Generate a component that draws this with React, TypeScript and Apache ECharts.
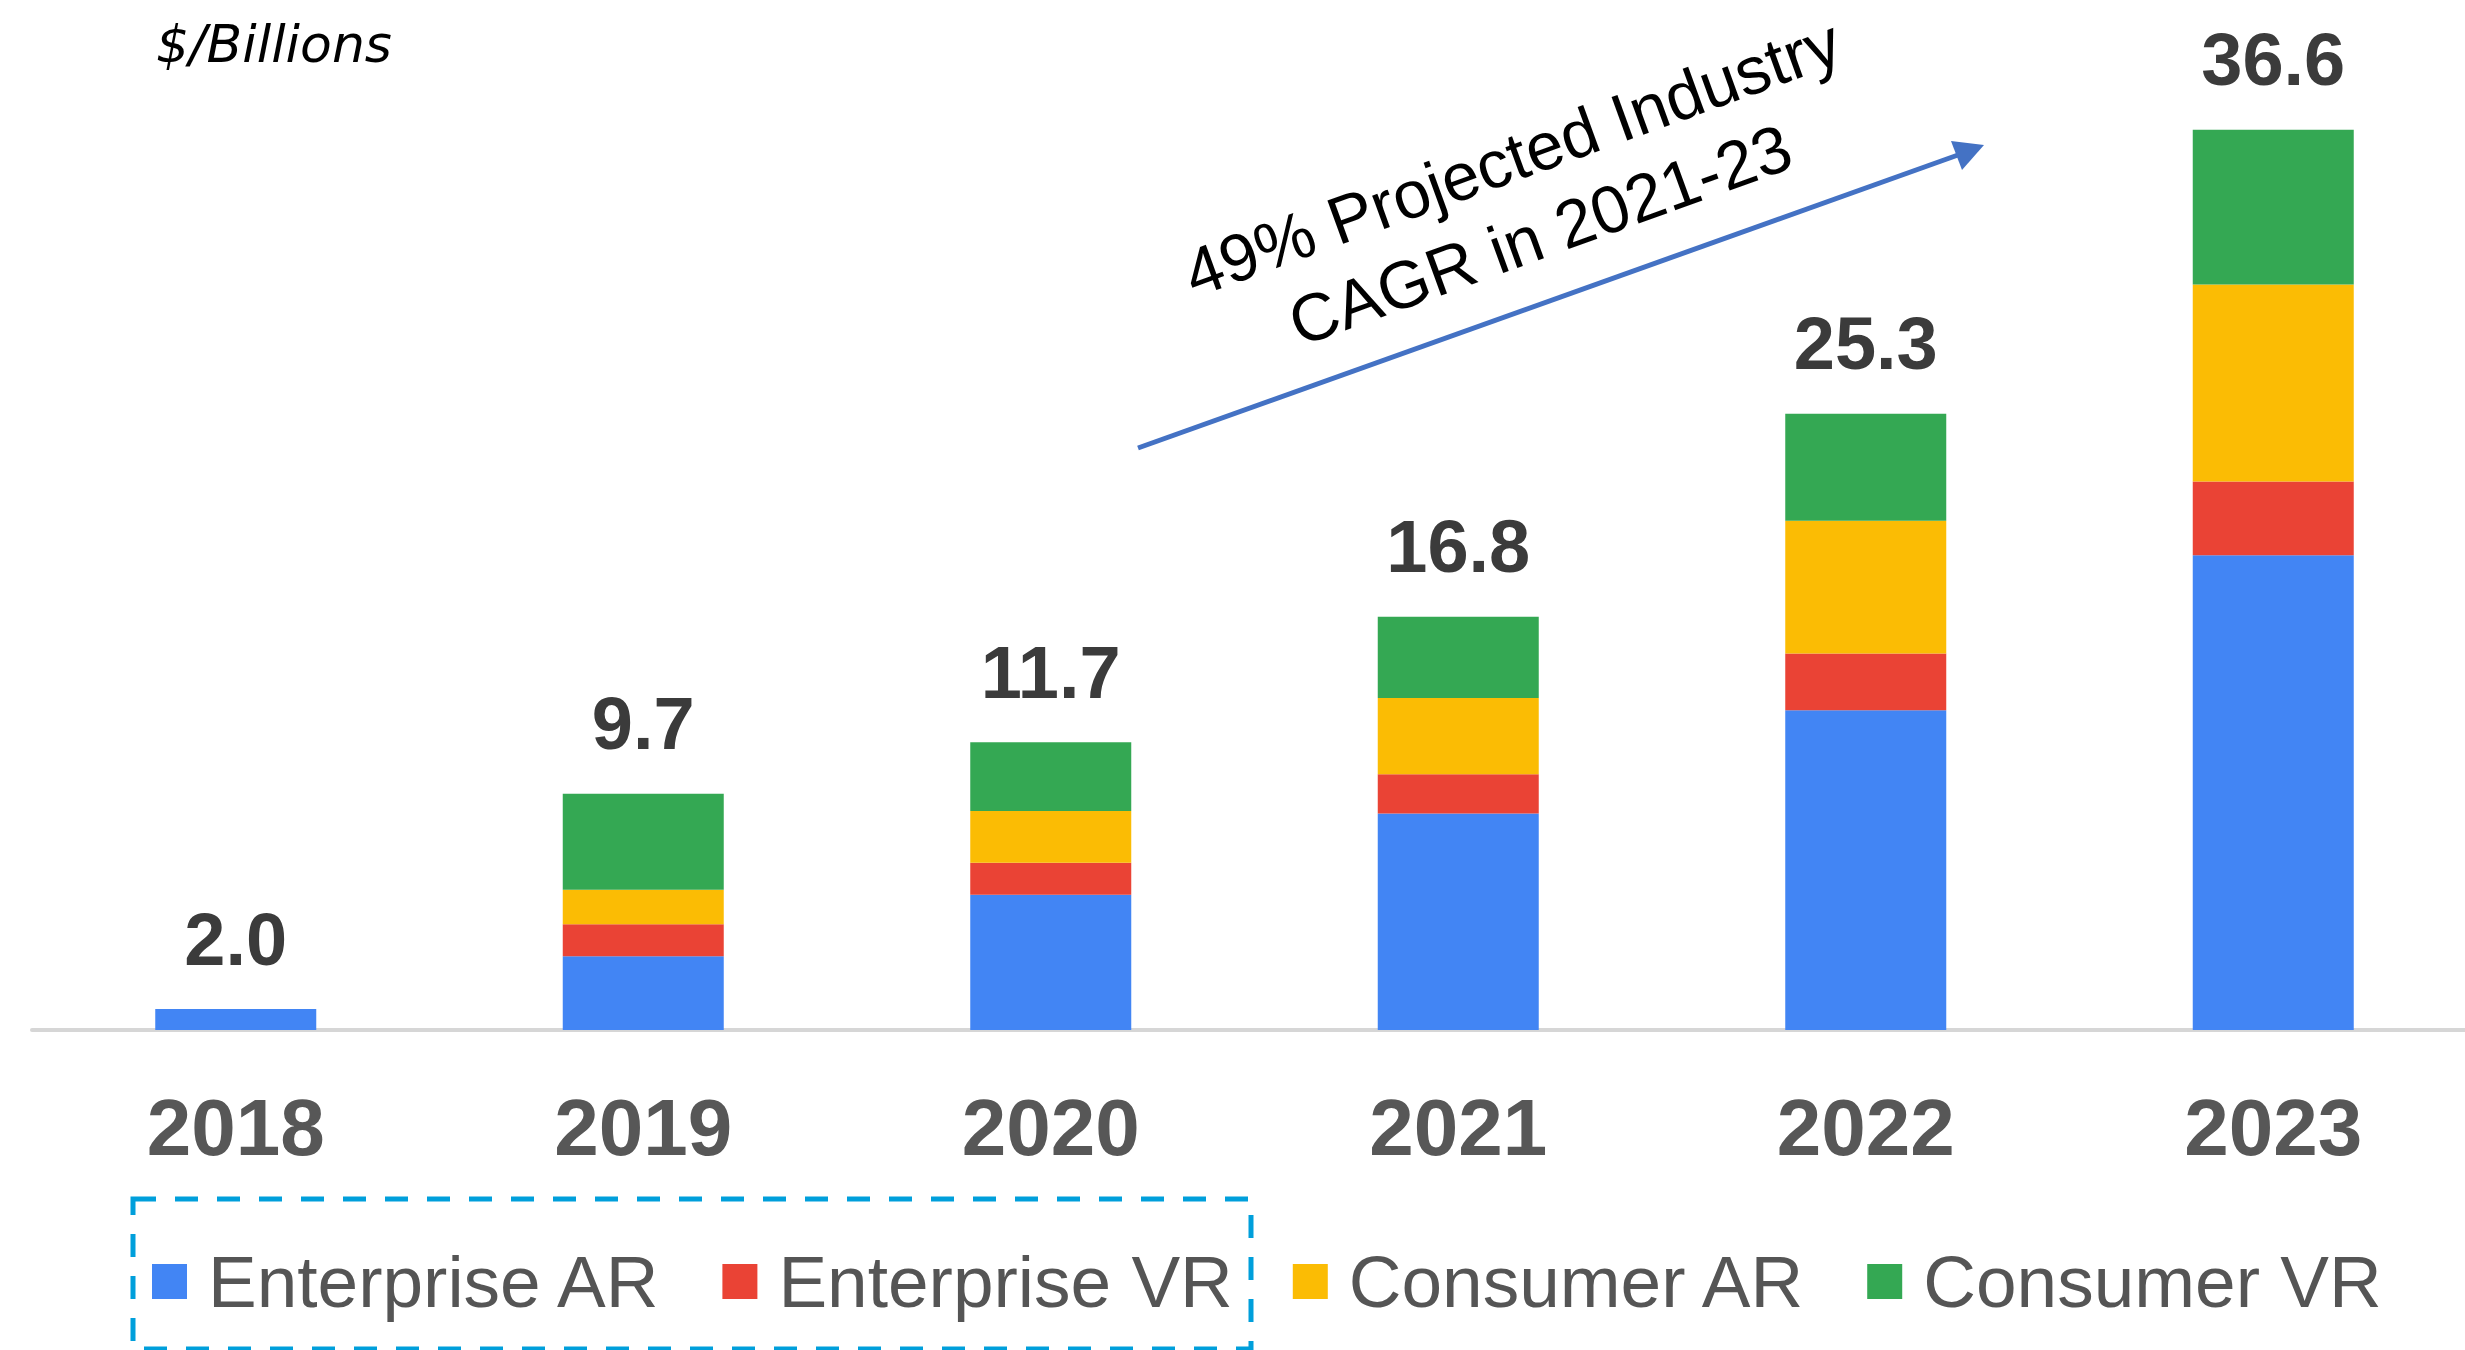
import React, { useEffect, useRef } from "react";
import * as echarts from "echarts";

const categories = ["2018", "2019", "2020", "2021", "2022", "2023"];
const enterpriseAR = [0.85, 3.0, 5.5, 8.8, 13.0, 19.3];
const enterpriseVR = [0, 1.3, 1.3, 1.6, 2.3, 3.0];
const consumerAR = [0, 1.4, 2.1, 3.1, 5.4, 8.0];
const consumerVR = [0, 3.9, 2.8, 3.3, 4.35, 6.3];
const totalLabels = ["2.0", "9.7", "11.7", "16.8", "25.3", "36.6"];
const totalPlaceholder = [0, 0, 0, 0, 0, 0];

const seriesNames = ["Enterprise AR", "Enterprise VR", "Consumer AR", "Consumer VR"];
const seriesColors = ["#4285F4", "#EA4335", "#FBBC04", "#34A853"];
const seriesData = [enterpriseAR, enterpriseVR, consumerAR, consumerVR];

const FONT = "'Liberation Sans', Arial, Helvetica, sans-serif";

export default function App() {
  const ref = useRef<HTMLDivElement>(null);

  useEffect(() => {
    document.body.style.margin = "0";
    document.body.style.overflow = "hidden";
    document.documentElement.style.overflow = "hidden";
    if (!ref.current) return;
    const chart = echarts.init(ref.current, undefined, { renderer: "svg" });

    const bars: any[] = seriesNames.map((name, i) => ({
      name,
      type: "bar",
      stack: "total",
      barWidth: 161,
      data: seriesData[i],
      itemStyle: { color: seriesColors[i] },
      emphasis: { disabled: true },
    }));

    bars.push({
      name: "Total",
      type: "bar",
      stack: "total",
      barWidth: 161,
      data: totalPlaceholder,
      itemStyle: { color: "transparent" },
      emphasis: { disabled: true },
      label: {
        show: true,
        position: "top",
        distance: 33,
        fontSize: 74,
        fontWeight: "bold",
        fontFamily: FONT,
        color: "#3b3b3b",
        formatter: (p: any) => totalLabels[p.dataIndex],
      },
    });

    const angle = (20 * Math.PI) / 180;

    chart.setOption({
      animation: false,
      backgroundColor: "#ffffff",
      grid: { left: 32, width: 2445, top: 46, bottom: 320, containLabel: false },
      xAxis: {
        type: "category",
        data: categories,
        axisLine: { show: true, lineStyle: { color: "#d6d6d6", width: 4 } },
        axisTick: { show: false },
        axisLabel: {
          fontSize: 80,
          fontWeight: "bold",
          fontFamily: FONT,
          color: "#575757",
          margin: 57,
        },
      },
      yAxis: {
        type: "value",
        min: 0,
        max: 40,
        show: false,
        splitLine: { show: false },
      },
      legend: {
        data: seriesNames,
        left: 152,
        top: 1245,
        padding: 0,
        icon: "rect",
        itemWidth: 35,
        itemHeight: 35,
        itemGap: 60,
        selectedMode: false,
        textStyle: {
          fontSize: 73,
          color: "#555555",
          fontFamily: FONT,
          padding: [0, 0, 0, 16],
        },
      },
      series: bars,
      graphic: [
        {
          type: "text",
          x: 156,
          y: 44,
          style: {
            text: "$/Billions",
            fontSize: 52,
            fontStyle: "italic",
            fontFamily: "'DejaVu Sans', sans-serif",
            fill: "#000000",
            align: "left",
            textAlign: "left",
            verticalAlign: "middle",
            textVerticalAlign: "middle",
          },
        },
        {
          type: "line",
          shape: { x1: 1138, y1: 448, x2: 1958, y2: 155 },
          style: { stroke: "#4472C4", lineWidth: 5 },
        },
        {
          type: "polygon",
          shape: { points: [[1984, 145], [1951, 141], [1962, 170]] },
          style: { fill: "#4472C4" },
        },
        {
          type: "text",
          x: 1526,
          y: 196,
          rotation: angle,
          style: {
            text: "49% Projected Industry\nCAGR in 2021-23",
            fontSize: 67,
            lineHeight: 82,
            fontFamily: FONT,
            fill: "#000000",
            align: "center",
            textAlign: "center",
            verticalAlign: "middle",
            textVerticalAlign: "middle",
          },
        },
        {
          type: "rect",
          shape: { x: 133, y: 1199, width: 1118, height: 150 },
          style: {
            fill: "none",
            stroke: "#009FDB",
            lineWidth: 5,
            lineDash: [23, 19],
          },
        },
      ],
    });

    return () => {
      chart.dispose();
    };
  }, []);

  return <div ref={ref} style={{ width: 2480, height: 1350 }} />;
}
